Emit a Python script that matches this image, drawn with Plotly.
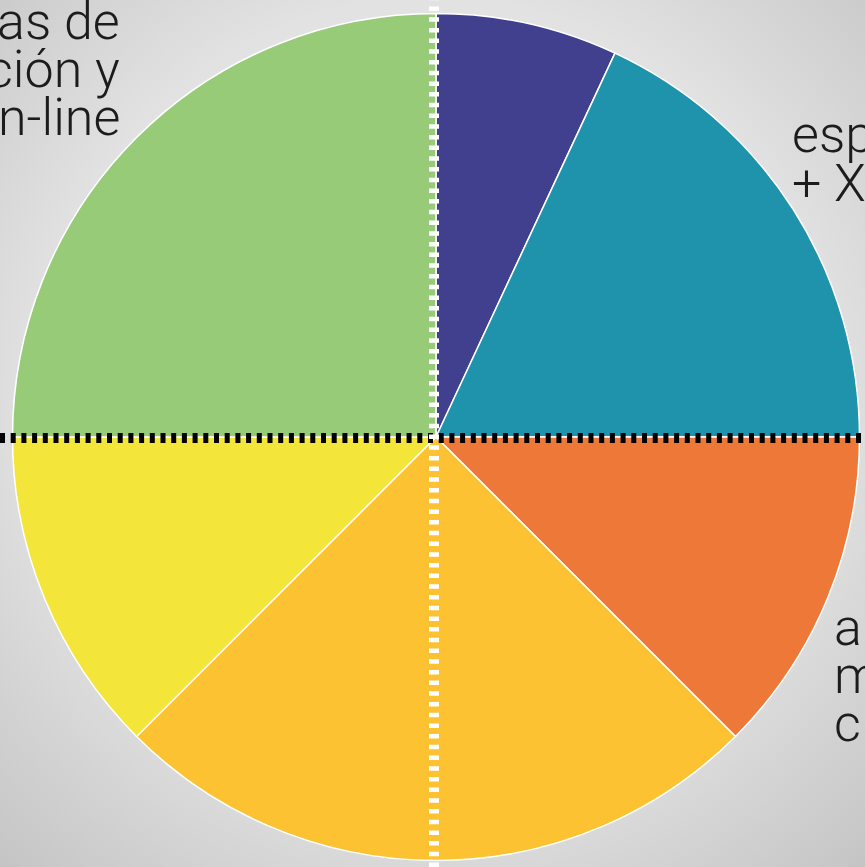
import plotly.graph_objects as go
import base64

W, H = 865, 867

# Data (slice sizes read as angular extents, clockwise from 12 o'clock)
categories = ["Azul", "Turquesa", "Naranja", "Ámbar", "Amarillo", "Verde"]
values = [25, 65, 45, 90, 45, 90]
colors = ["#41408f", "#1f93ab", "#ee7837", "#fdc232", "#f3e53a", "#98cb78"]

label_green = ["as de", "ción y", "n-line"]
label_teal = ["esp", "+ X"]
label_orange = ["a", "m", "c"]

fig = go.Figure()

# pie geometry in pixels
cx, cy, r = 436, 437, 423.5
fig.add_trace(go.Pie(
    labels=categories,
    values=values,
    sort=False,
    direction="clockwise",
    rotation=0,
    textinfo="none",
    hoverinfo="label+value",
    marker=dict(colors=colors, line=dict(color="white", width=1.5)),
    domain=dict(x=[(cx - r) / W, (cx + r) / W], y=[1 - (cy + r) / H, 1 - (cy - r) / H]),
    showlegend=False,
))

# background radial gradient
svg = f'''<svg xmlns="http://www.w3.org/2000/svg" width="{W}" height="{H}">
<defs><radialGradient id="g" cx="50%" cy="45%" r="75%">
<stop offset="0%" stop-color="#f0f0f0"/><stop offset="60%" stop-color="#e2e2e2"/>
<stop offset="100%" stop-color="#c4c4c4"/></radialGradient></defs>
<rect width="{W}" height="{H}" fill="url(#g)"/></svg>'''
src = "data:image/svg+xml;base64," + base64.b64encode(svg.encode()).decode()

shapes = [
    dict(type="line", xref="paper", yref="paper", x0=0, x1=1, y0=1 - 438 / H, y1=1 - 438 / H,
         line=dict(color="black", width=10, dash="5px,5.7px"), layer="above"),
    dict(type="line", xref="paper", yref="paper", x0=434 / W, x1=434 / W, y0=0, y1=1,
         line=dict(color="white", width=10, dash="4.5px,6.2px"), layer="above"),
]

font = dict(family="Roboto, 'Liberation Sans', Arial, sans-serif", size=52, color="#1c1c1c", weight=300)
ann = []
def add_lines(lines, x, baselines, anchor):
    for t, b in zip(lines, baselines):
        ann.append(dict(text=t, x=x / W, y=1 - (b - 18) / H, xref="paper", yref="paper",
                        xanchor=anchor, yanchor="middle", showarrow=False, font=font))

add_lines(label_green, 122, [39, 87, 135], "right")
add_lines(label_teal, 790, [153, 201], "left")
add_lines(label_orange, 832, [645, 693, 741], "left")

fig.update_layout(
    width=W, height=H,
    margin=dict(l=0, r=0, t=0, b=0),
    paper_bgcolor="#dcdcdc",
    plot_bgcolor="rgba(0,0,0,0)",
    images=[dict(source=src, xref="paper", yref="paper", x=0, y=1, sizex=1, sizey=1,
                 xanchor="left", yanchor="top", sizing="stretch", layer="below")],
    shapes=shapes,
    annotations=ann,
)

fig.write_html("out.html", config={"displayModeBar": False},
               post_script="document.body.style.margin='0';document.body.style.overflow='hidden';")
